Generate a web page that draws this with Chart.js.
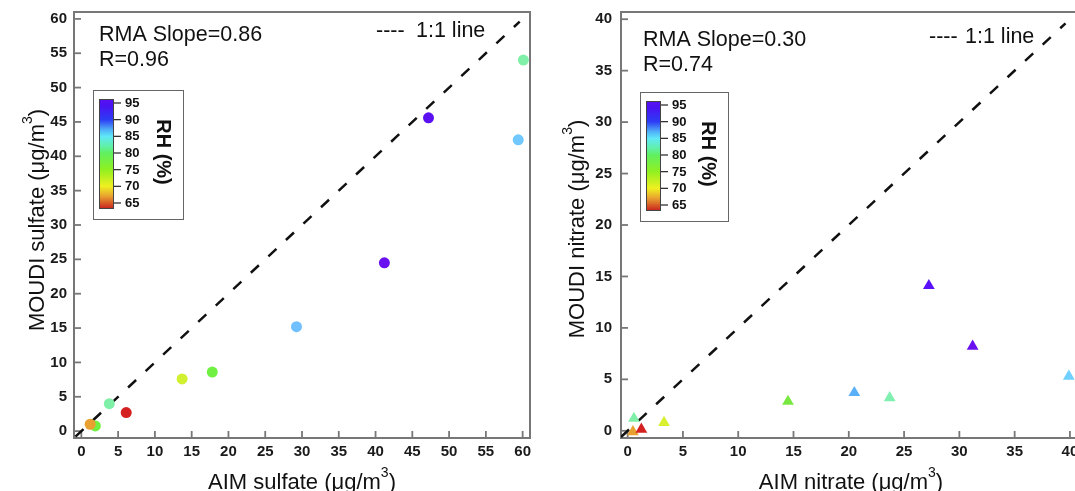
<!DOCTYPE html>
<html><head><meta charset="utf-8">
<script src="https://cdn.jsdelivr.net/npm/chart.js@4.4.1/dist/chart.umd.min.js"></script>
<style>
html,body{margin:0;padding:0;background:#fff;overflow:hidden;width:1075px;height:491px;position:relative}
#l{position:absolute;left:0;top:0;width:545px;height:491px}
#r{position:absolute;left:545px;top:0;width:560px;height:491px}
</style></head><body>
<div id="l"><canvas id="cl"></canvas></div>
<div id="r"><canvas id="cr"></canvas></div>
<script>
// ---------- data ----------
const sulfateAIM    = [60.1, 47.2, 59.4, 41.2, 29.25, 17.8, 13.7, 6.1, 3.8, 1.9, 1.2];
const sulfateMOUDI  = [54.0, 45.6, 42.4, 24.5, 15.2, 8.6, 7.6, 2.7, 4.0, 0.75, 1.0];
const sulfateColors = ['#80f0a8','#5a10f0','#70c8ff','#6a10f0','#70c0ff','#70f040','#d0f030','#d42020','#80f0a8','#70f040','#e8a030'];

const nitrateAIM    = [0.57, 0.48, 1.24, 3.29, 14.5, 20.5, 23.7, 31.2, 39.9, 27.24];
const nitrateMOUDI  = [1.2, -0.1, 0.15, 0.8, 2.85, 3.7, 3.2, 8.2, 5.3, 14.1];
const nitrateColors = ['#80f0a8','#e8a030','#d42020','#d8f030','#78e840','#5ab0f8','#80f0b0','#6a10f0','#70d0ff','#5a10f8'];

const sulfateTicks  = [0,5,10,15,20,25,30,35,40,45,50,55,60];
const nitrateXTicks = [0,5,10,15,20,25,30,35,40];
const nitrateYTicks = [0,5,10,15,20,25,30,35,40];
const oneToOneSulfate = [-0.8, 59.6];
const oneToOneNitrate = [-0.6, 39.6];

const rhTicks = [95,90,85,80,75,70,65];
const rhRange = [96.2, 63.2];
const rhStops = [[96.2,'#5a0ff0'],[94,'#4a14f2'],[90,'#2c3cf5'],[87,'#50b0f8'],[85,'#60e8f8'],[82,'#60f0a8'],[80,'#60f060'],[75,'#90f020'],[70,'#f0f020'],[67,'#e8a030'],[63.2,'#c81e1e']];

const sulfateStats = ['RMA Slope=0.86', 'R=0.96'];
const nitrateStats = ['RMA Slope=0.30', 'R=0.74'];
const lineLabel = ['----', '1:1 line'];

// ---------- helpers ----------
const FONT = '"Liberation Sans", Arial, Helvetica, sans-serif';
const AXIS = '#777777';

function supText(ctx, parts, x, y, rot) {
  const [main, sup, close] = parts;
  ctx.save();
  ctx.translate(x, y); ctx.rotate(rot);
  ctx.fillStyle = '#111'; ctx.textBaseline = 'alphabetic'; ctx.textAlign = 'left';
  const big = '22px ' + FONT, small = '14px ' + FONT;
  ctx.font = big; const w1 = ctx.measureText(main).width, w3 = ctx.measureText(close).width;
  ctx.font = small; const w2 = ctx.measureText(sup).width;
  let sx = -(w1 + w2 + w3) / 2;
  ctx.font = big; ctx.fillText(main, sx, 0); sx += w1;
  ctx.font = small; ctx.fillText(sup, sx, -12); sx += w2;
  ctx.font = big; ctx.fillText(close, sx, 0);
  ctx.restore();
}

function drawColorbar(ctx, bx, by, bw, bh) {
  ctx.save();
  ctx.strokeStyle = '#666'; ctx.lineWidth = 1;
  ctx.strokeRect(bx + 0.5, by + 0.5, bw, bh);
  const barX = bx + 6, barW = 15, barT = by + 9, barH = 110;
  const g = ctx.createLinearGradient(0, barT, 0, barT + barH);
  const span = rhRange[0] - rhRange[1];
  rhStops.forEach(([v, c]) => g.addColorStop(Math.min(1, Math.max(0, (rhRange[0] - v) / span)), c));
  ctx.fillStyle = g; ctx.fillRect(barX, barT, barW, barH);
  ctx.strokeStyle = '#444'; ctx.lineWidth = 1;
  ctx.strokeRect(barX + 0.5, barT + 0.5, barW - 1, barH - 1);
  ctx.fillStyle = '#111'; ctx.font = 'bold 13px ' + FONT;
  ctx.textAlign = 'left'; ctx.textBaseline = 'middle';
  rhTicks.forEach(v => {
    const yy = barT + (rhRange[0] - v) / span * barH;
    ctx.beginPath(); ctx.moveTo(barX + barW, yy); ctx.lineTo(barX + barW + 7, yy);
    ctx.strokeStyle = '#222'; ctx.lineWidth = 1.2; ctx.stroke();
    ctx.fillText(String(v), barX + barW + 11, yy + 0.5);
  });
  ctx.save();
  ctx.translate(bx + bw - 20, barT + barH / 2 - 2);
  ctx.rotate(Math.PI / 2);
  ctx.font = 'bold 20px ' + FONT; ctx.textAlign = 'center'; ctx.textBaseline = 'middle';
  ctx.fillText('RH (%)', 0, 0);
  ctx.restore();
  ctx.restore();
}

function makePanel(canvas, p) {
  const framePlugin = {
    id: 'frame_' + p.id,
    beforeDatasetsDraw(chart) {
      const {ctx, chartArea: a, scales: {x, y}} = chart;
      ctx.save();
      ctx.strokeStyle = AXIS; ctx.lineWidth = 2;
      ctx.strokeRect(a.left, a.top, a.right - a.left, a.bottom - a.top);
      ctx.lineWidth = 1.8;
      p.xTicks.forEach(v => { const px = x.getPixelForValue(v); ctx.beginPath(); ctx.moveTo(px, a.bottom); ctx.lineTo(px, a.bottom - 7); ctx.stroke(); });
      p.yTicks.forEach(v => { const py = y.getPixelForValue(v); ctx.beginPath(); ctx.moveTo(a.left, py); ctx.lineTo(a.left + 7, py); ctx.stroke(); });
      ctx.restore();
    },
    afterDraw(chart) {
      const {ctx, chartArea: a} = chart;
      ctx.save();
      ctx.fillStyle = '#111'; ctx.textAlign = 'left'; ctx.textBaseline = 'alphabetic';
      ctx.font = '21.5px ' + FONT;
      ctx.fillText(p.stats[0], a.left + p.statsDx, a.top + p.statsDy);
      ctx.fillText(p.stats[1], a.left + p.statsDx, a.top + p.statsDy + 25);
      ctx.fillText(lineLabel[0], a.left + p.lineDx, a.top + p.lineDy);
      ctx.fillText(lineLabel[1], a.left + p.lineDx + p.lineGap, a.top + p.lineDy);
      ctx.restore();
      drawColorbar(ctx, a.left + 19, a.top + p.cbDy, p.cbW, 129);
      supText(ctx, p.xTitle, (a.left + a.right) / 2, 489, 0);
      supText(ctx, p.yTitle, p.yTitleX, (a.top + a.bottom) / 2 + p.yTitleDy, -Math.PI / 2);
    }
  };
  const tickFont = {family: FONT, size: 15, weight: 'bold'};
  const noPad = s => { s.paddingTop = 0; s.paddingBottom = 0; s.paddingLeft = 0; s.paddingRight = 0; };
  return new Chart(canvas, {
    type: 'scatter',
    data: {datasets: [
      {data: p.xs.map((v, i) => ({x: v, y: p.ys[i]})), pointBackgroundColor: p.colors, pointBorderColor: p.colors,
       pointBorderWidth: 0, pointRadius: p.radius, pointStyle: p.style, clip: false},
      {data: p.line.map(v => ({x: v, y: v})), showLine: true, borderColor: '#111', borderWidth: 2.5,
       borderDash: [11, 13], pointRadius: 0, fill: false}
    ]},
    options: {
      responsive: true, maintainAspectRatio: false, animation: false, devicePixelRatio: 1,
      layout: {padding: {top: 12, right: p.padRight, left: 0, bottom: 0}},
      plugins: {legend: {display: false}, tooltip: {enabled: false}},
      events: [],
      scales: {
        x: {type: 'linear', min: p.xRange[0], max: p.xRange[1],
            afterFit: s => { s.height = 53; noPad(s); },
            afterBuildTicks: s => { s.ticks = p.xTicks.map(v => ({value: v})); },
            grid: {display: false, drawTicks: false}, border: {display: false},
            ticks: {padding: 5, font: tickFont, color: '#1a1a1a', maxRotation: 0, autoSkip: false}},
        y: {type: 'linear', min: p.yRange[0], max: p.yRange[1],
            afterFit: s => { s.width = p.yAxisW; noPad(s); },
            afterBuildTicks: s => { s.ticks = p.yTicks.map(v => ({value: v})); },
            grid: {display: false, drawTicks: false}, border: {display: false},
            ticks: {padding: p.yPad, font: tickFont, color: '#1a1a1a', autoSkip: false}}
      }
    },
    plugins: [framePlugin]
  });
}

makePanel(document.getElementById('cl'), {
  id: 'l', xs: sulfateAIM, ys: sulfateMOUDI, colors: sulfateColors, radius: 5.5, style: 'circle',
  line: oneToOneSulfate, xTicks: sulfateTicks, yTicks: sulfateTicks, xRange: [-1, 61], yRange: [-1, 61],
  yAxisW: 74, padRight: 15, yPad: 7, stats: sulfateStats, statsDx: 25, statsDy: 28.5,
  lineDx: 302, lineDy: 24.5, lineGap: 40, cbDy: 78, cbW: 90,
  xTitle: ['AIM sulfate (μg/m', '3', ')'], yTitle: ['MOUDI sulfate (μg/m', '3', ')'], yTitleX: 44, yTitleDy: -5
});
makePanel(document.getElementById('cr'), {
  id: 'r', xs: nitrateAIM, ys: nitrateMOUDI, colors: nitrateColors, radius: 6.8, style: 'triangle',
  line: oneToOneNitrate, xTicks: nitrateXTicks, yTicks: nitrateYTicks, xRange: [-0.6, 41], yRange: [-0.7, 40.7],
  yAxisW: 76, padRight: 24, yPad: 9, stats: nitrateStats, statsDx: 22, statsDy: 34,
  lineDx: 308, lineDy: 30.5, lineGap: 36, cbDy: 80, cbW: 88,
  xTitle: ['AIM nitrate (μg/m', '3', ')'], yTitle: ['MOUDI nitrate (μg/m', '3', ')'], yTitleX: 39, yTitleDy: 4
});
</script>
</body></html>
